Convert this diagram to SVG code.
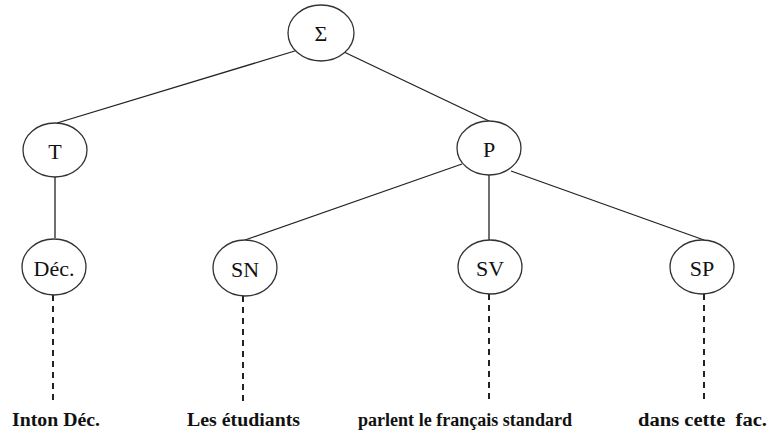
<svg xmlns="http://www.w3.org/2000/svg" width="771" height="434" viewBox="0 0 771 434">
  <style>
    .node ellipse { fill: #ffffff; stroke: #333333; stroke-width: 1.3; }
    .node text { font-family: 'Liberation Serif', 'DejaVu Serif', serif; font-size: 22px; fill: #111111; text-anchor: middle; }
    .edge { stroke: #222222; stroke-width: 1.3; fill: none; }
    .dash { stroke: #222222; stroke-width: 2; stroke-dasharray: 6 5; fill: none; }
    .leaf { font-family: 'Liberation Serif', 'DejaVu Serif', serif; font-size: 18px; font-weight: bold; fill: #111111; }
  </style>
  <rect width="771" height="434" fill="#ffffff"/>

  <!-- tree branches -->
  <g id="connectors">
    <line class="edge" x1="298" y1="50" x2="57" y2="123"/>
    <line class="edge" x1="344" y1="52" x2="489" y2="121"/>
    <line class="edge" x1="55" y1="177" x2="55" y2="238"/>
    <line class="edge" x1="462" y1="164" x2="245" y2="240"/>
    <line class="edge" x1="489" y1="175" x2="489" y2="240"/>
    <line class="edge" x1="511" y1="171" x2="704" y2="240"/>
    <line class="dash" x1="53" y1="295" x2="53" y2="404"/>
    <line class="dash" x1="243" y1="296" x2="243" y2="404"/>
    <line class="dash" x1="489" y1="294" x2="489" y2="404"/>
    <line class="dash" x1="704" y1="294" x2="704" y2="404"/>
  </g>

  <g id="sigma" class="node">
    <ellipse cx="321" cy="33" rx="33" ry="28"/>
    <text x="321" y="41">Σ</text>
  </g>
  <g id="t" class="node">
    <ellipse cx="55" cy="150" rx="32" ry="27"/>
    <text x="55" y="159">T</text>
  </g>
  <g id="p" class="node">
    <ellipse cx="489" cy="148" rx="32" ry="27"/>
    <text x="489" y="157">P</text>
  </g>
  <g id="dec" class="node">
    <ellipse cx="54" cy="267" rx="32" ry="28"/>
    <text x="54" y="276">Déc.</text>
  </g>
  <g id="sn" class="node">
    <ellipse cx="245" cy="268" rx="32" ry="28"/>
    <text x="245" y="277">SN</text>
  </g>
  <g id="sv" class="node">
    <ellipse cx="490" cy="267" rx="32" ry="27"/>
    <text x="490" y="276">SV</text>
  </g>
  <g id="sp" class="node">
    <ellipse cx="702" cy="267" rx="32" ry="27"/>
    <text x="702" y="276">SP</text>
  </g>

  <!-- terminal strings -->
  <g id="leaves">
    <text class="leaf" x="12" y="426" textLength="88" lengthAdjust="spacingAndGlyphs">Inton Déc.</text>
    <text class="leaf" x="187" y="426" textLength="113" lengthAdjust="spacingAndGlyphs">Les étudiants</text>
    <text class="leaf" x="358" y="426" textLength="214" lengthAdjust="spacingAndGlyphs">parlent le français standard</text>
    <text class="leaf" x="638" y="426" textLength="129" lengthAdjust="spacingAndGlyphs" xml:space="preserve">dans cette  fac.</text>
  </g>
</svg>
